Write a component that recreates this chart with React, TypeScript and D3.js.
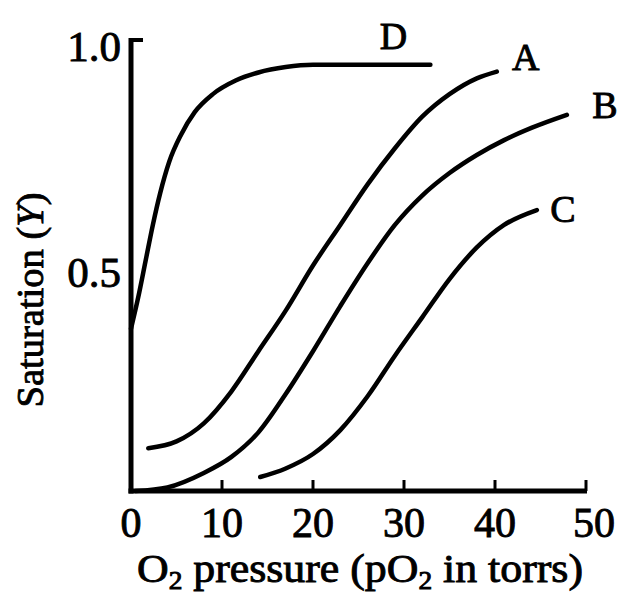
import React from "react";
import * as d3 from "d3";

// Curve data: O2 pressure (torr) and saturation Y
const curveD_x = [0, 0.8, 1.6, 2.4, 3.2, 4.2, 5.5, 7, 9, 11.5, 14, 17, 20, 32.9];
const curveD_y = [0.36, 0.43, 0.51, 0.59, 0.66, 0.73, 0.79, 0.84, 0.88, 0.91, 0.928, 0.94, 0.945, 0.945];

const curveA_x = [1.9, 5, 8, 11, 14, 17, 20, 23, 26, 29, 32, 35, 38, 40.2];
const curveA_y = [0.095, 0.11, 0.15, 0.22, 0.31, 0.4, 0.5, 0.59, 0.68, 0.76, 0.83, 0.88, 0.915, 0.93];

const curveB_x = [0.5, 4, 8, 11, 14, 17, 20, 23, 26, 29, 32, 35, 38, 41, 44, 47.9];
const curveB_y = [0.0, 0.008, 0.04, 0.075, 0.13, 0.215, 0.31, 0.41, 0.505, 0.59, 0.655, 0.705, 0.745, 0.778, 0.805, 0.834];

const curveC_x = [14.2, 17, 20, 23, 26, 29, 32, 35, 38, 41, 44.6];
const curveC_y = [0.031, 0.05, 0.082, 0.135, 0.21, 0.3, 0.385, 0.47, 0.54, 0.59, 0.623];

const seriesNames = ["D", "A", "B", "C"];
const xTicks = [0, 10, 20, 30, 40, 50];
const yTickLabels = ["0.5", "1.0"];
const yTicks = [0.5, 1.0];

export default function App() {
  const W = 622, H = 594;
  const x = d3.scaleLinear().domain([0, 50]).range([131, 586]);
  const y = d3.scaleLinear().domain([0, 1]).range([491, 40]);

  const series = [
    { name: "D", xs: curveD_x, ys: curveD_y },
    { name: "A", xs: curveA_x, ys: curveA_y },
    { name: "B", xs: curveB_x, ys: curveB_y },
    { name: "C", xs: curveC_x, ys: curveC_y },
  ];
  const labelOffsets: Record<string, [number, number]> = {
    D: [-37, -16],
    A: [29, -2],
    B: [38, 3],
    C: [26, 12],
  };

  const line = d3
    .line<[number, number]>()
    .x((d) => x(d[0]))
    .y((d) => y(d[1]))
    .curve(d3.curveMonotoneX);

  const font = "Liberation Serif, Times New Roman, Times, serif";
  const ts = 0.9;

  return (
    <svg
      width={W}
      height={H}
      style={{ position: "absolute", left: 0, top: 0, background: "#fff" }}
    >
      <rect x={0} y={0} width={W} height={H} fill="#fff" />
      {series.map((s) => {
        const pts = s.xs.map((v, i) => [v, s.ys[i]] as [number, number]);
        return (
          <path
            key={s.name}
            d={line(pts) || ""}
            fill="none"
            stroke="#000"
            strokeWidth={4.5}
            strokeLinecap="round"
          />
        );
      })}
      <line x1={x(0)} x2={x(0)} y1={y(1) - 2} y2={y(0) + 2.5} stroke="#000" strokeWidth={5} />
      <line x1={x(0) - 2.5} x2={x(50) + 1} y1={y(0)} y2={y(0)} stroke="#000" strokeWidth={5} />
      <line x1={x(0)} x2={x(0) + 12} y1={y(1)} y2={y(1)} stroke="#000" strokeWidth={4} />
      {xTicks.filter((t) => t > 0).map((t) => (
        <line key={t} x1={x(t)} x2={x(t)} y1={y(0)} y2={y(0) - 11} stroke="#000" strokeWidth={3} />
      ))}
      {xTicks.map((t) => (
        <text
          key={t}
          x={x(t) + (t === 50 ? 8 : 0)}
          y={537}
          textAnchor="middle"
          fontFamily={font}
          fontSize={42}
          fill="#000"
          stroke="#000"
          strokeWidth={ts}
        >
          {t}
        </text>
      ))}
      {yTicks.map((t, i) => (
        <text
          key={t}
          x={x(0) - 10}
          y={y(t) + 21}
          textAnchor="end"
          fontFamily={font}
          fontSize={43}
          fill="#000"
          stroke="#000"
          strokeWidth={ts}
        >
          {yTickLabels[i]}
        </text>
      ))}
      <text
        x={137}
        y={582}
        fontFamily={font}
        fontSize={40}
        fill="#000"
        stroke="#000"
        strokeWidth={ts}
        textLength={446}
        lengthAdjust="spacingAndGlyphs"
      >
        O<tspan fontSize={25} dy={7}>2</tspan>
        <tspan dy={-7}> pressure (pO</tspan>
        <tspan fontSize={25} dy={7}>2</tspan>
        <tspan dy={-7}> in torrs)</tspan>
      </text>
      <text
        transform={`translate(43, 300) rotate(-90)`}
        textAnchor="middle"
        fontFamily={font}
        fontSize={38}
        fill="#000"
        stroke="#000"
        strokeWidth={ts}
        textLength={215}
        lengthAdjust="spacingAndGlyphs"
      >
        Saturation (<tspan fontStyle="italic">Y</tspan>)
      </text>
      {series.map((s) => {
        const n = s.xs.length - 1;
        const [dx, dy] = labelOffsets[s.name];
        return (
          <text
            key={"l" + s.name}
            x={x(s.xs[n]) + dx}
            y={y(s.ys[n]) + dy}
            textAnchor="middle"
            fontFamily={font}
            fontSize={38}
            fill="#000"
            stroke="#000"
            strokeWidth={ts}
          >
            {seriesNames[seriesNames.indexOf(s.name)]}
          </text>
        );
      })}
    </svg>
  );
}
